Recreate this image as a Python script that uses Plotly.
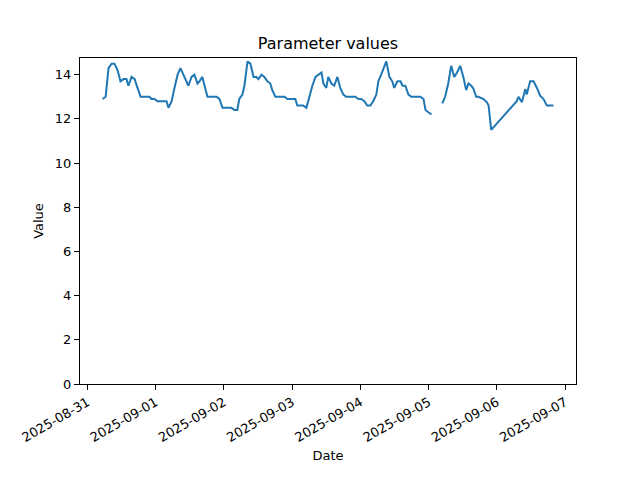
import pandas as pd
import numpy as np
import plotly.graph_objects as go

start = pd.Timestamp("2025-08-31 00:00")

# hours since 2025-08-31 00:00 ; None value = missing reading (gap)
hours = [
    5.3, 6.4, 7.4, 8.5, 9.5, 10.6, 11.6, 12.7, 13.7, 14.4, 15.5, 16.6, 17.6, 18.7, 19.7,
    20.8, 21.8, 22.5, 23.6, 24.6, 25.7, 26.7, 27.8, 28.5, 29.6, 30.6, 31.7, 32.7, 33.8,
    34.8, 35.5, 36.6, 37.6, 38.7, 39.4, 40.4, 41.5, 42.2, 43.3, 44.3, 45.4, 46.4, 47.5,
    48.5, 49.6, 50.6, 51.7, 52.7, 53.4, 54.5, 55.2, 56.3, 57.3, 58.4, 59.4, 60.1, 61.2,
    62.2, 63.3, 64.3, 65.0, 66.1, 67.1, 68.2, 69.3, 70.3, 71.4, 72.4, 73.1, 73.8, 74.9,
    75.9, 77.0, 78.0, 79.1, 80.2, 81.2, 82.3, 83.0, 84.0, 84.7, 85.8, 86.8, 87.9, 88.9,
    90.0, 91.0, 92.1, 93.1, 94.2, 95.3, 96.3, 97.4, 98.4, 99.5, 100.5, 101.6, 102.3,
    103.3, 105.1, 106.2, 107.2, 107.9, 109.0, 110.1, 110.8, 111.8, 112.9, 113.9, 115.0,
    116.0, 117.1, 118.2, 118.9, 119.9, 121.0,
    122.5,
    124.8, 125.8, 126.9, 127.9, 129.0, 130.0, 131.1, 132.2, 133.2, 134.0, 135.0, 135.8,
    136.7, 137.5, 139.3, 140.5, 141.1, 142.0, 151.0, 151.6, 152.8, 154.0, 154.5, 155.7,
    156.9, 158.1, 159.2, 160.4, 161.6, 162.7, 163.9,
]
values = [
    12.9, 13.0, 14.3, 14.5, 14.5, 14.2, 13.7, 13.8, 13.8, 13.5, 13.9, 13.8, 13.4, 13.0, 13.0,
    13.0, 13.0, 12.9, 12.9, 12.8, 12.8, 12.8, 12.8, 12.5, 12.8, 13.4, 14.0, 14.3, 14.0,
    13.7, 13.5, 13.9, 14.0, 13.6, 13.7, 13.9, 13.3, 13.0, 13.0, 13.0, 13.0, 12.9, 12.5,
    12.5, 12.5, 12.5, 12.4, 12.4, 12.9, 13.1, 13.5, 14.6, 14.5, 13.9, 13.9, 13.8, 14.0,
    13.9, 13.7, 13.6, 13.3, 13.0, 13.0, 13.0, 13.0, 12.9, 12.9, 12.9, 12.9, 12.6, 12.6,
    12.6, 12.5, 13.0, 13.5, 13.9, 14.0, 14.1, 13.6, 13.4, 13.9, 13.6, 13.5, 13.9, 13.4,
    13.1, 13.0, 13.0, 13.0, 13.0, 12.9, 12.9, 12.8, 12.6, 12.6, 12.8, 13.1, 13.7,
    14.0, 14.6, 13.9, 13.7, 13.4, 13.7, 13.7, 13.5, 13.5, 13.1, 13.0, 13.0,
    13.0, 13.0, 12.9, 12.4, 12.3, 12.2,
    None,
    12.7, 13.0, 13.6, 14.4, 13.9, 14.1, 14.4, 13.9, 13.3, 13.6, 13.5, 13.35,
    13.0, 13.0, 12.9, 12.75, 12.6, 11.5, 12.8, 13.0, 12.75, 13.35, 13.1, 13.7,
    13.7, 13.4, 13.05, 12.9, 12.6, 12.6, 12.6,
]
tick_dates = ["2025-08-31", "2025-09-01", "2025-09-02", "2025-09-03",
              "2025-09-04", "2025-09-05", "2025-09-06", "2025-09-07"]
y_ticks = [0, 2, 4, 6, 8, 10, 12, 14]

times = [start + pd.Timedelta(hours=h) for h in hours]
t0, t1 = times[0], times[-1]
pad = (t1 - t0) * 0.05
vals = [v for v in values if v is not None]
ymax = max(vals) + 0.05 * (max(vals) - min(vals))

fig = go.Figure()
fig.add_trace(go.Scatter(x=times, y=values, mode="lines",
                         line=dict(color="#1f77b4", width=2), connectgaps=False))

font = dict(family="DejaVu Sans", size=13, color="black")
axis_common = dict(showgrid=False, zeroline=False, showline=True, linecolor="black",
                   linewidth=1, mirror=True, ticks="outside", ticklen=5, tickwidth=1,
                   tickcolor="black", tickfont=font)
fig.update_layout(
    width=640, height=480,
    margin=dict(l=72, r=72, t=50, b=104),
    paper_bgcolor="white", plot_bgcolor="white",
    font=font, showlegend=False,
    title=dict(text="Parameter values", x=0.5, xref="paper", xanchor="center",
               y=1 - 35 / 480, yanchor="middle",
               font=dict(family="DejaVu Sans", size=16, color="black")),
    xaxis=dict(type="date", range=[t0 - pad, t1 + pad], tickmode="array",
               tickvals=tick_dates, ticktext=tick_dates, tickangle=-30,
               title=dict(text="Date", font=font, standoff=6), **axis_common),
    yaxis=dict(range=[0, ymax], tickmode="array", tickvals=y_ticks,
               ticktext=[str(t) for t in y_ticks],
               title=dict(text="Value", font=font, standoff=8), **axis_common),
)
fig.write_html("out.html")
